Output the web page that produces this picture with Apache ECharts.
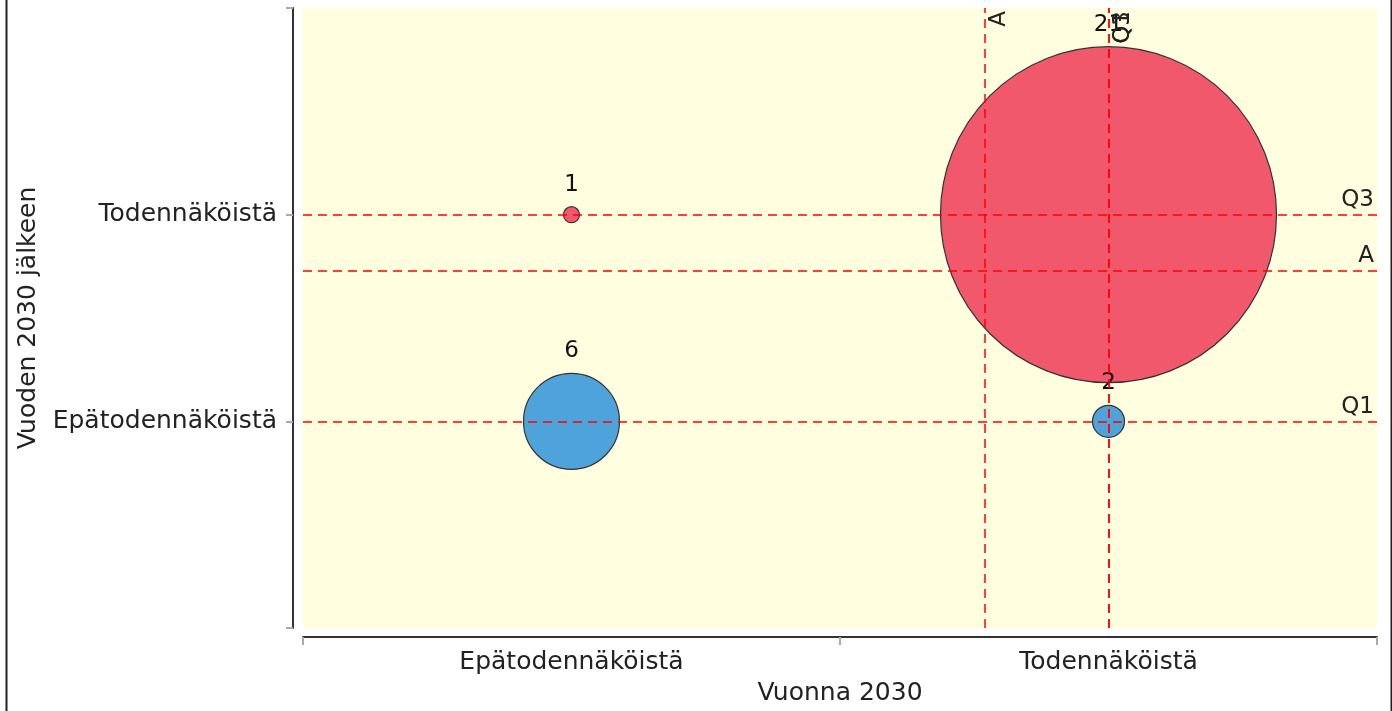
<!DOCTYPE html>
<html>
<head>
<meta charset="utf-8">
<script src="https://cdn.jsdelivr.net/npm/echarts@6/dist/echarts.min.js"></script>
<style>
html,body{margin:0;padding:0;background:#fff;}
#chart{width:1392px;height:711px;}
</style>
</head>
<body>
<div id="chart"></div>
<script>
// ---- data ----
const xCategories = ['Epätodennäköistä', 'Todennäköistä'];
const yCategories = ['Epätodennäköistä', 'Todennäköistä'];
const xAxisName = 'Vuonna 2030';
const yAxisName = 'Vuoden 2030 jälkeen';
// [x category index, y category index, count]
const redPoints = [[0, 1, 1], [1, 1, 21]];
const bluePoints = [[0, 0, 6], [1, 0, 2]];

// ---- helpers ----
// y positions on the value axis: category index + 1
const toData = pts => pts.map(p => [p[0], p[1] + 1, p[2]]);
const allPoints = toData(redPoints.concat(bluePoints));
function expand(dim) {
  const arr = [];
  allPoints.forEach(p => { for (let i = 0; i < p[2]; i++) arr.push(p[dim]); });
  return arr.sort((a, b) => a - b);
}
function quantile(sorted, q) {
  // nearest-rank method
  const idx = Math.max(0, Math.ceil(sorted.length * q) - 1);
  return sorted[idx];
}
function stats(dim) {
  const s = expand(dim);
  const mean = s.reduce((a, b) => a + b, 0) / s.length;
  return { A: mean, Q1: quantile(s, 0.25), Q3: quantile(s, 0.75) };
}
const xs = stats(0), ys = stats(1);

const FONT = 'DejaVu Sans';
const FS = 23;      // mark labels
const AFS = 25;     // axis labels and names
const lineStyle = { color: '#ff0000', type: [9, 6], width: 1.5, opacity: 1 };
const vLabel = { show: true, position: 'insideEndBottom', color: '#222', fontFamily: FONT, fontSize: FS, distance: 3 };
const hLabel = { show: true, position: 'insideEndTop', color: '#222', fontFamily: FONT, fontSize: FS, distance: 3 };

const chart = echarts.init(document.getElementById('chart'), null, { renderer: 'canvas' });
chart.setOption({
  animation: false,
  backgroundColor: '#ffffff',
  graphic: [{
    type: 'rect', left: 4, top: -10, shape: { width: 1385, height: 731 },
    style: { fill: 'none', stroke: '#222', lineWidth: 2 }, silent: true, z: 100
  }],
  grid: {
    left: 303, right: 15, top: 8, bottom: 83, show: true, backgroundColor: '#ffffe0', borderWidth: 0,
    containLabel: false, outerBoundsMode: 'none'
  },
  xAxis: {
    type: 'value', min: -0.5, max: 1.5, interval: 0.5, offset: 9,
    name: xAxisName, nameLocation: 'middle', nameGap: 44,
    nameTextStyle: { fontFamily: FONT, fontSize: AFS, color: '#222' },
    axisLine: { show: true, onZero: false, lineStyle: { color: '#333', width: 2 } },
    axisTick: { show: true, length: 8, customValues: [-0.5, 0.5, 1.5], lineStyle: { color: '#aaa', width: 2 } },
    axisLabel: {
      customValues: [0, 1], margin: 13, fontFamily: FONT, fontSize: AFS, color: '#222',
      formatter: v => xCategories[Math.round(v)] || ''
    },
    splitLine: { show: false }
  },
  yAxis: {
    type: 'value', min: 0, max: 3, interval: 1, offset: 10,
    name: yAxisName, nameLocation: 'middle', nameGap: 252, nameRotate: 90,
    nameTextStyle: { fontFamily: FONT, fontSize: AFS, color: '#222' },
    axisLine: { show: true, onZero: false, lineStyle: { color: '#333', width: 2 } },
    axisTick: { show: true, length: 7, lineStyle: { color: '#aaa', width: 2 } },
    axisLabel: {
      margin: 16, fontFamily: FONT, fontSize: AFS, color: '#222',
      formatter: v => (v >= 1 && v <= 2) ? yCategories[v - 1] : ''
    },
    splitLine: { show: false }
  },
  series: [
    {
      type: 'scatter', name: 'red', data: toData(redPoints), z: 2,
      symbolSize: d => d[2] * 16,
      itemStyle: { color: '#f2586b', borderColor: '#333', borderWidth: 1.2, opacity: 1 },
      label: { show: true, position: 'top', distance: 10, formatter: p => p.data[2], color: '#111', fontFamily: FONT, fontSize: FS }
    },
    {
      type: 'scatter', name: 'blue', data: toData(bluePoints), z: 2,
      symbolSize: d => d[2] * 16,
      itemStyle: { color: '#4da3da', borderColor: '#333', borderWidth: 1.2, opacity: 1 },
      label: { show: true, position: 'top', distance: 10, formatter: p => p.data[2], color: '#111', fontFamily: FONT, fontSize: FS }
    },
    {
      type: 'scatter', name: 'lines', data: [], z: 5,
      markLine: {
        silent: true, symbol: 'none', animation: false,
        lineStyle: lineStyle,
        data: [
          { xAxis: xs.A, label: Object.assign({ formatter: 'A' }, vLabel) },
          { xAxis: xs.Q1, label: Object.assign({ formatter: 'Q1' }, vLabel) },
          { xAxis: xs.Q3, label: Object.assign({ formatter: 'Q3' }, vLabel) },
          { yAxis: ys.A, label: Object.assign({ formatter: 'A' }, hLabel) },
          { yAxis: ys.Q1, label: Object.assign({ formatter: 'Q1' }, hLabel) },
          { yAxis: ys.Q3, label: Object.assign({ formatter: 'Q3' }, hLabel) }
        ]
      }
    }
  ]
});
</script>
</body>
</html>
